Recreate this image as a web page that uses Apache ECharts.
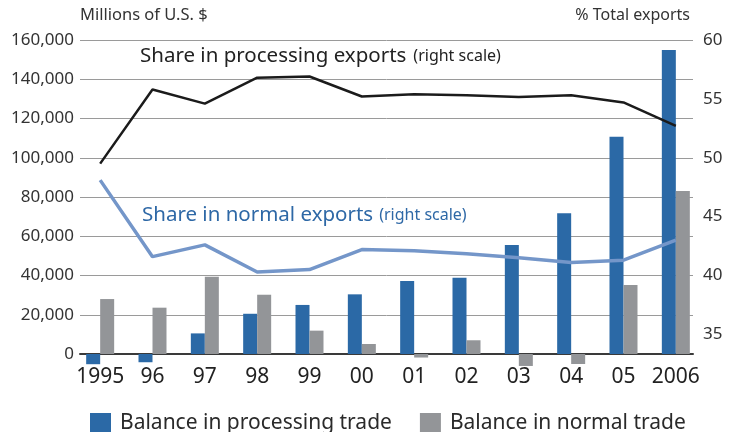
<!DOCTYPE html>
<html>
<head>
<meta charset="utf-8">
<script src="https://cdn.jsdelivr.net/npm/echarts@6/dist/echarts.min.js"></script>
<style>
  html, body { margin: 0; padding: 0; background: #fff; }
  #chart-container { width: 739px; height: 432px; }
</style>
</head>
<body>
<div id="chart-container"></div>
<script>
const years = ["1995", "96", "97", "98", "99", "00", "01", "02", "03", "04", "05", "2006"];
const processingBalance = [-5200, -4200, 10500, 20500, 25000, 30400, 37200, 38900, 55500, 71700, 110700, 154900];
const normalBalance = [28000, 23600, 39400, 30200, 11900, 5100, -1800, 7000, -6100, -5100, 35200, 83000];
const processingShare = [49.5, 55.8, 54.6, 56.8, 56.9, 55.2, 55.4, 55.3, 55.15, 55.3, 54.7, 52.7];
const normalShare = [48.1, 41.6, 42.6, 40.3, 40.5, 42.2, 42.1, 41.85, 41.5, 41.1, 41.3, 43.0];
const leftTicks = { min: -20000, max: 160000, interval: 20000 };
const rightTicks = { min: 30, max: 60, interval: 5 };

(() => {
  var dom = document.getElementById("chart-container");
  var chart = echarts.init(dom, null, { renderer: "canvas" });
  const font = "Noto Sans";
  const textColor = "#333";
  const top = 40, bottom = 38.75;

  const option = {
    animation: false,
    textStyle: { fontFamily: font },
    grid: [
      { left: 80, right: 46, top: top, bottom: bottom },
      { left: 74, right: 37, top: top, bottom: bottom },
    ],
    xAxis: [
      {
        type: "category",
        gridIndex: 0,
        data: years,
        axisLine: { show: true, onZero: true, lineStyle: { color: "#3a3a3a", width: 2 } },
        axisTick: { show: false },
        axisLabel: { show: false },
      },
      {
        type: "category",
        gridIndex: 1,
        data: years,
        axisLine: { show: false },
        axisTick: { show: false },
        axisLabel: { interval: 0, margin: -27, fontSize: 21, color: "#222", fontFamily: font },
      },
    ],
    yAxis: [
      {
        type: "value",
        gridIndex: 0,
        min: leftTicks.min,
        max: leftTicks.max,
        interval: leftTicks.interval,
        axisLine: { show: false },
        axisTick: { show: false },
        axisLabel: {
          showMinLabel: false,
          margin: 6,
          fontSize: 17,
          color: textColor,
          fontFamily: font,
          formatter: (v) => (v < 0 ? "" : v.toLocaleString("en-US")),
        },
        splitLine: { show: true, showMinLine: false, lineStyle: { color: "#9a9a9a", width: 1 } },
      },
      {
        type: "value",
        gridIndex: 0,
        position: "right",
        min: rightTicks.min,
        max: rightTicks.max,
        interval: rightTicks.interval,
        axisLine: { show: false },
        axisTick: { show: false },
        axisLabel: { showMinLabel: false, margin: 10, fontSize: 17, color: textColor, fontFamily: font },
        splitLine: { show: false },
      },
      {
        type: "value",
        gridIndex: 1,
        min: leftTicks.min,
        max: leftTicks.max,
        show: false,
      },
      {
        type: "value",
        gridIndex: 1,
        min: rightTicks.min,
        max: rightTicks.max,
        show: false,
      },
    ],
    legend: {
      left: 85,
      top: 408,
      itemWidth: 21,
      itemHeight: 21,
      itemGap: 28,
      icon: "rect",
      textStyle: { fontSize: 21, color: "#2a2a2a", fontFamily: font, padding: [0, 0, 0, 4] },
      data: ["Balance in processing trade", "Balance in normal trade"],
    },
    graphic: [
      {
        type: "text",
        left: 80,
        top: 7,
        style: { text: "Millions of U.S. $", font: "16.5px " + font, fill: textColor },
      },
      {
        type: "text",
        right: 49,
        top: 7,
        style: { text: "% Total exports", font: "16px " + font, fill: textColor, align: "right" },
      },
      {
        type: "text",
        left: 140,
        top: 46,
        style: {
          text: "{a|Share in processing exports}{b|(right scale)}",
          rich: {
            a: { fontSize: 20.5, fontFamily: font, fill: "#222" },
            b: { fontSize: 16, fontFamily: font, fill: "#222", padding: [0, 0, 0, 7] },
          },
        },
      },
      {
        type: "text",
        left: 142,
        top: 205,
        style: {
          text: "{a|Share in normal exports}{b|(right scale)}",
          rich: {
            a: { fontSize: 20.5, fontFamily: font, fill: "#2e68a6" },
            b: { fontSize: 16, fontFamily: font, fill: "#2e68a6", padding: [0, 0, 0, 6] },
          },
        },
      },
    ],
    series: [
      {
        name: "Balance in processing trade",
        type: "bar",
        xAxisIndex: 1,
        yAxisIndex: 2,
        data: processingBalance,
        barWidth: 14,
        barGap: "0%",
        itemStyle: { color: "#2b69a6" },
      },
      {
        name: "Balance in normal trade",
        type: "bar",
        xAxisIndex: 1,
        yAxisIndex: 2,
        data: normalBalance,
        barWidth: 14,
        barGap: "0%",
        itemStyle: { color: "#939598" },
      },
      {
        name: "Share in processing exports",
        type: "line",
        xAxisIndex: 1,
        yAxisIndex: 3,
        data: processingShare,
        symbol: "none",
        lineStyle: { color: "#1b1b1b", width: 2.5 },
        z: 5,
      },
      {
        name: "Share in normal exports",
        type: "line",
        xAxisIndex: 1,
        yAxisIndex: 3,
        data: normalShare,
        symbol: "none",
        lineStyle: { color: "#7496c9", width: 3.5 },
        z: 5,
      },
    ],
  };
  chart.setOption(option);
  window.addEventListener("resize", chart.resize);
})();
</script>
</body>
</html>
